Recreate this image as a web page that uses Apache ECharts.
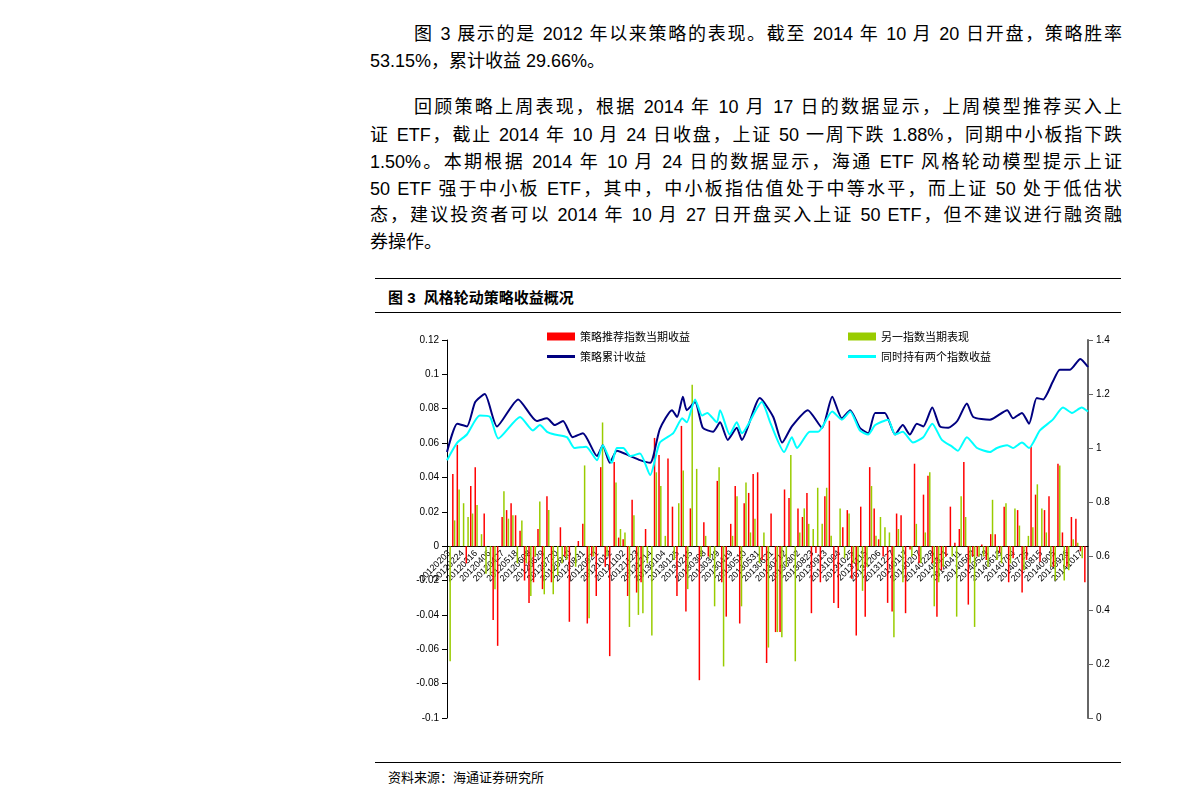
<!DOCTYPE html>
<html><head><meta charset="utf-8">
<script src="https://cdn.jsdelivr.net/npm/echarts@6/dist/echarts.min.js"></script>
<style>
body{margin:0;background:#fff;font-family:"Liberation Sans","Noto Sans CJK SC",sans-serif;}
.l{position:absolute;left:370px;width:752px;font-size:18px;line-height:27px;color:#000;text-align:justify;text-align-last:justify;white-space:nowrap;}
.e{text-align-last:left;}
.rule{position:absolute;left:375px;width:746px;border-top:1px solid #000;}
</style></head>
<body>
<div class="l" style="top:21px;left:414px;width:708px">图 3 展示的是 2012 年以来策略的表现。截至 2014 年 10 月 20 日开盘，策略胜率</div>
<div class="l e" style="top:48px">53.15%，累计收益 29.66%。</div>
<div class="l" style="top:94px;left:414px;width:708px">回顾策略上周表现，根据 2014 年 10 月 17 日的数据显示，上周模型推荐买入上</div>
<div class="l" style="top:122px">证 ETF，截止 2014 年 10 月 24 日收盘，上证 50 一周下跌 1.88%，同期中小板指下跌</div>
<div class="l" style="top:149px">1.50%。本期根据 2014 年 10 月 24 日的数据显示，海通 ETF 风格轮动模型提示上证</div>
<div class="l" style="top:176px">50 ETF 强于中小板 ETF，其中，中小板指估值处于中等水平，而上证 50 处于低估状</div>
<div class="l" style="top:202px">态，建议投资者可以 2014 年 10 月 27 日开盘买入上证 50 ETF，但不建议进行融资融</div>
<div class="l e" style="top:229px">券操作。</div>
<div class="rule" style="top:278px"></div>
<div style="position:absolute;left:388px;top:286px;font-size:15px;font-weight:bold">图 3&nbsp; 风格轮动策略收益概况</div>
<div class="rule" style="top:312px"></div>
<div id="chart" style="position:absolute;left:380px;top:320px;width:740px;height:420px"></div>
<div class="rule" style="top:762px"></div>
<div style="position:absolute;left:388px;top:767px;font-size:13px">资料来源：海通证券研究所</div>
<script>
// 每周收益（红：策略推荐指数，绿：另一指数）
var redData = [0,.042,.059,0,-.01,.035,.046,0,.019,0,-.043,-.058,.017,.021,.025,.018,.009,-.02,-.033,-.021,.01,-.025,.029,-.021,0,.011,-.006,-.044,0,.003,.013,-.045,-.006,-.029,.046,-.012,-.064,.049,.005,.004,-.029,.027,-.027,-.021,.01,0,.063,.053,0,.051,.023,-.029,.07,-.038,.022,0,-.078,.014,-.006,0,.038,-.021,-.041,.013,.035,-.045,.025,.031,.042,.043,-.008,-.068,.019,-.05,-.05,.033,.028,0,.022,.017,.031,-.039,-.004,-.021,.029,.073,-.033,-.036,.011,.021,-.019,-.052,.023,-.041,.046,.022,.004,-.006,-.033,-.038,.019,.018,-.039,-.002,.048,-.01,.03,.041,-.01,-.041,-.014,-.006,.023,.002,.01,.049,-.034,-.006,-.006,.001,-.008,.007,.007,-.004,.023,-.021,-.007,.021,-.027,-.008,.058,.03,-.009,.021,.029,-.012,.048,.008,-.012,.017,.016,-.003,-.021];
var greenData = [-.067,.015,.033,.025,.017,.019,.024,.007,-.016,-.017,-.025,0,.032,.016,.018,-.01,.015,-.01,-.029,-.006,.026,-.028,.021,-.028,-.017,-.01,-.008,0,-.012,0,.047,-.042,-.006,0,.072,-.006,0,.037,.01,.008,-.047,.018,-.04,-.039,-.01,-.052,.043,.035,.006,0,-.008,.025,.044,-.025,.094,.045,-.006,.006,-.007,-.035,.046,-.07,0,.006,.029,-.035,.037,.008,.016,-.01,.008,-.059,0,-.05,-.053,-.012,.053,-.067,.008,.022,.013,.01,.034,.013,.034,.006,0,.022,-.007,.019,-.01,-.014,-.026,-.012,.035,.006,.017,.011,.008,-.053,.01,-.021,0,-.006,.013,-.01,.008,.043,-.035,-.021,-.012,0,-.006,-.041,.029,.017,-.01,-.047,-.006,-.006,-.012,.027,-.008,-.01,.025,-.01,.022,.012,-.014,.006,.011,.036,.022,.008,-.012,-.02,.047,-.02,-.014,.004,.002,-.007,0];

// 累计收益曲线：[横向位置(0-100), 净值]
var stratLine = [[0,.985],[1.6,1.09],[3.1,1.08],[4.4,1.17],[5.9,1.2],[7.8,1.08],[11.1,1.18],[14,1.1],[15.6,1.11],[16.8,1.085],[18.1,1.1],[19.6,1.04],[21.2,1.055],[23.4,.97],[24.3,1.01],[25.4,.945],[26.5,.99],[28.6,.97],[30.1,.955],[31.7,.945],[33.2,1.07],[35.1,1.14],[35.9,1.115],[36.8,1.19],[37.4,1.14],[38.7,1.17],[39.9,1.075],[41.5,1.06],[42.6,1.095],[43.8,1.03],[45.2,1.075],[46,1.03],[48.8,1.185],[50.9,1.115],[52.3,1.02],[53.8,1.08],[56.3,1.14],[58.5,1.075],[60.1,1.19],[61.6,1.11],[62.9,1.14],[64.4,1.075],[65.7,1.055],[66.8,1.13],[68.3,1.13],[69.9,1.05],[71.1,1.085],[72.2,1.05],[73.3,1.09],[74.3,1.08],[75.7,1.15],[76.9,1.08],[78.2,1.075],[79.6,1.1],[81.1,1.165],[82.1,1.115],[84.7,1.105],[87.4,1.14],[88.3,1.11],[89.7,1.13],[90.8,1.09],[92,1.185],[93,1.18],[94.5,1.245],[95.6,1.29],[97.2,1.29],[98.8,1.33],[100,1.3]];
var bothLine = [[0,.955],[1.6,1.02],[3.1,1.05],[5.1,1.12],[6.7,1.115],[8,1.035],[11.4,1.115],[13.4,1.065],[14.5,1.085],[15.6,1.06],[16.8,1.05],[18.7,1.04],[19.9,1],[21.7,1.005],[23.4,.955],[24.3,1.01],[25.7,.945],[26.5,1],[27.5,1],[28.6,.97],[30.1,.98],[31.7,.9],[33.2,1.02],[35.3,1.055],[36.7,1.11],[37.4,1.095],[38.7,1.18],[39.8,1.12],[40.6,1.13],[42.1,1.095],[42.6,1.14],[44.1,1.05],[45.2,1.095],[46,1.055],[49.1,1.17],[50.5,1.09],[52.6,.985],[53.8,1.04],[54.6,1],[56.6,1.06],[57.9,1.06],[60.1,1.135],[61.6,1.105],[62.9,1.135],[64.4,1.065],[65.7,1.05],[66.8,1.085],[68.8,1.105],[69.9,1.05],[71.1,1.06],[72.7,1.02],[74.3,1.04],[75.7,1.09],[77.2,1.03],[78.8,1.005],[79.7,.99],[81.1,1.04],[82.7,1],[84.7,.985],[85.8,1],[87.4,1.01],[88.3,1],[89.7,1.02],[90.8,1],[92.5,1.065],[94.5,1.105],[96.1,1.15],[97.5,1.13],[99,1.15],[100,1.135]];

// 周度日期
var dates = [];
var end = new Date(2014, 9, 24);
for (var i = 142; i >= 0; i--) {
    var d = new Date(end.getTime() - i * 7 * 86400000);
    dates.push('' + d.getFullYear() + ('0' + (d.getMonth() + 1)).slice(-2) + ('0' + d.getDate()).slice(-2));
}

var chart = echarts.init(document.getElementById('chart'));
var legendText = {fontSize: 11, color: '#000', fontFamily: 'Noto Sans CJK SC'};
chart.setOption({
    animation: false,
    legend: [
        {left: 162, top: 6, itemWidth: 28, itemHeight: 8, itemGap: 158, textStyle: legendText,
         data: [{name: '策略推荐指数当期收益', icon: 'rect'}, {name: '另一指数当期表现', icon: 'rect'}]},
        {left: 162, top: 26, itemWidth: 28, itemHeight: 3, itemGap: 202, textStyle: legendText,
         data: [{name: '策略累计收益', icon: 'rect'}, {name: '同时持有两个指数收益', icon: 'rect'}]}
    ],
    grid: {left: 67, right: 32, top: 20, bottom: 22},
    xAxis: [
        {type: 'category', data: dates, boundaryGap: true,
         axisLine: {onZero: true, lineStyle: {color: '#000'}},
         axisTick: {show: false},
         axisLabel: {rotate: 45, interval: 2, fontSize: 9, color: '#000', margin: -166}},
        {type: 'value', min: 0, max: 100, show: false}
    ],
    yAxis: [
        {type: 'value', min: -0.1, max: 0.12, interval: 0.02, splitLine: {show: false},
         axisLine: {show: true, lineStyle: {color: '#000'}}, axisTick: {show: true},
         axisLabel: {fontSize: 10, color: '#000', formatter: function (v) { return +v.toFixed(2) + ''; }}},
        {type: 'value', min: 0, max: 1.4, interval: 0.2, splitLine: {show: false},
         axisLine: {show: true, lineStyle: {color: '#666', width: 2}}, axisTick: {show: true},
         axisLabel: {fontSize: 10, color: '#000', formatter: function (v) { return +v.toFixed(1) + ''; }}}
    ],
    series: [
        {name: '策略推荐指数当期收益', type: 'bar', data: redData, barWidth: 1.5, barGap: '20%', itemStyle: {color: '#ff0000'}},
        {name: '另一指数当期表现', type: 'bar', data: greenData, barWidth: 1.5, itemStyle: {color: '#99cc00'}},
        {name: '策略累计收益', type: 'line', xAxisIndex: 1, yAxisIndex: 1, data: stratLine, symbol: 'none',
         smooth: 0.2, lineStyle: {color: '#000080', width: 2}, itemStyle: {color: '#000080'}},
        {name: '同时持有两个指数收益', type: 'line', xAxisIndex: 1, yAxisIndex: 1, data: bothLine, symbol: 'none',
         smooth: 0.2, lineStyle: {color: '#00ffff', width: 2}, itemStyle: {color: '#00ffff'}}
    ]
});
</script>
</body></html>
